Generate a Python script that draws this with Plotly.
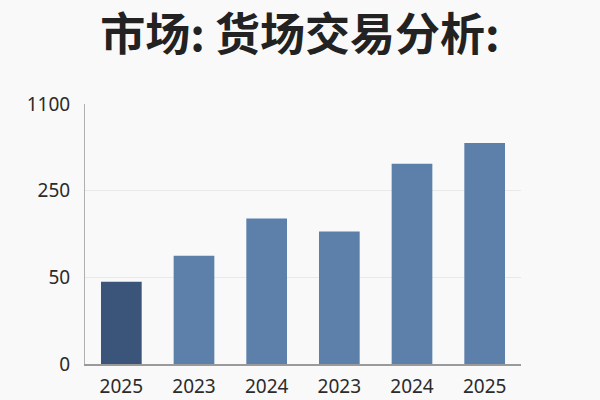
import plotly.graph_objects as go

# categories (duplicate years kept as in the source)
years = ["2025", "2023", "2024", "2023", "2024", "2025"]
# bar heights in axis units (evenly spaced ticks 0..3)
heights = [0.95, 1.25, 1.68, 1.53, 2.31, 2.55]
tick_pos = [0, 1, 2, 3]
tick_labels = ["0", "50", "250", "1100"]
bar_colors = ["#3b5479", "#5d80aa", "#5d80aa", "#5d80aa", "#5d80aa", "#5d80aa"]

x_idx = list(range(len(years)))

fig = go.Figure(
    go.Bar(
        x=x_idx,
        y=heights,
        marker=dict(color=bar_colors, line=dict(width=0)),
        width=0.56,
        hoverinfo="skip",
    )
)

fig.update_layout(
    width=600,
    height=400,
    paper_bgcolor="#f9f9f9",
    plot_bgcolor="#f9f9f9",
    margin=dict(l=85, r=79, t=104, b=36),
    showlegend=False,
    title=dict(
        text="<b>市场: 货场交易分析:</b>",
        x=0.5,
        xanchor="center",
        y=1 - 35 / 400,
        yanchor="middle",
        font=dict(family="Noto Sans CJK SC", size=45, color="#222222"),
    ),
    font=dict(family="Noto Sans", size=19, color="#2b2b2b"),
)

fig.update_xaxes(
    tickvals=x_idx,
    ticktext=years,
    range=[-0.5, 5.5],
    showgrid=False,
    showline=True,
    linecolor="#9a9a9a",
    linewidth=1.5,
    ticks="",
    ticklen=0,
    ticklabelstandoff=4,
    automargin=False,
)

fig.update_yaxes(
    tickvals=tick_pos,
    ticktext=tick_labels,
    range=[0, 3],
    showgrid=True,
    gridcolor="#e9e9e9",
    gridwidth=1,
    zeroline=False,
    showline=True,
    linecolor="#b0b0b0",
    linewidth=1,
    ticks="",
    ticklabelstandoff=10,
    automargin=False,
)

# drop the default page margin so the figure fills the window exactly
fig.write_html(
    "out.html",
    config={"displayModeBar": False},
    post_script="document.body.style.margin='0';",
)
